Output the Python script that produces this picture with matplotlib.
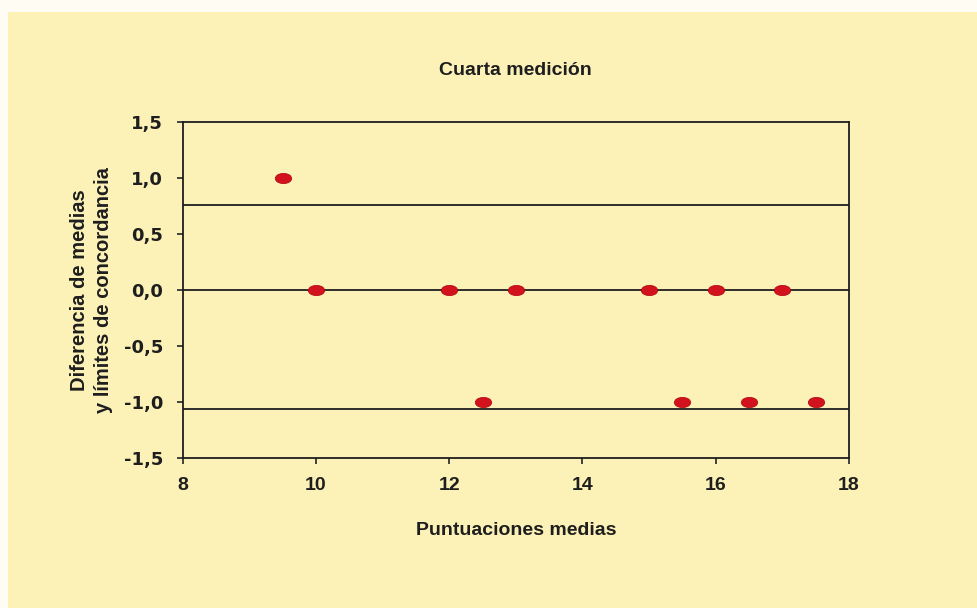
import matplotlib
matplotlib.use("Agg")
import matplotlib.pyplot as plt
from matplotlib.path import Path
from matplotlib.transforms import Affine2D
from matplotlib.patches import Rectangle

# Bland-Altman data: mean scores vs. difference of means
mean_scores = [9.5, 10, 12, 13, 15, 16, 17, 12.5, 15.5, 16.5, 17.5]
differences = [1.0, 0, 0, 0, 0, 0, 0, -1.0, -1.0, -1.0, -1.0]

mean_difference = 0.0
upper_limit = 0.76
lower_limit = -1.06

x_ticks = [8, 10, 12, 14, 16, 18]
y_ticks = [-1.5, -1.0, -0.5, 0.0, 0.5, 1.0, 1.5]
y_tick_labels = ["-1,5", "-1,0", "-0,5", "0,0", "0,5", "1,0", "1,5"]

bg = "#FCF2B7"
ink = "#1e1e1e"
plt.rcParams["font.family"] = ["Liberation Sans", "DejaVu Sans"]

fig = plt.figure(figsize=(9.77, 6.08), dpi=100, facecolor="#FFFDF3")
# paper panel behind everything
fig.patches.append(Rectangle((8 / 977, 0), 1, 1 - 12 / 608, transform=fig.transFigure,
                             facecolor=bg, edgecolor="none", zorder=-10))

ax = fig.add_axes([0.187, 0.247, 0.682, 0.552], facecolor=bg)
ax.set_zorder(1)

for y in (upper_limit, mean_difference, lower_limit):
    ax.axhline(y, color=ink, lw=1.3, zorder=1)

# elongated pill marker
pill = Path.unit_circle().transformed(Affine2D().scale(1.6, 1.0))
ax.scatter(mean_scores, differences, marker=pill, s=140, color="#D2121C",
           edgecolors="#B0000E", linewidths=0.5, zorder=3)

ax.set_xlim(8, 18)
ax.set_ylim(-1.5, 1.5)
ax.set_xticks(x_ticks)
ax.set_xticklabels([str(t) for t in x_ticks], fontsize=14, fontweight="bold", color=ink)
ax.set_yticks(y_ticks)
ax.set_yticklabels(y_tick_labels, fontsize=13, fontweight="bold", color=ink,
                   family=["DejaVu Sans"])
ax.tick_params(axis="both", direction="out", length=4, width=1.3, color="#333333")
ax.tick_params(axis="y", pad=10)
ax.tick_params(axis="x", pad=10)

for s in ax.spines.values():
    s.set_color(ink)
    s.set_linewidth(1.3)

ax.set_title("Cuarta medición", fontsize=14, fontweight="bold", color=ink, pad=34)
ax.set_xlabel("Puntuaciones medias", fontsize=14, fontweight="bold", color=ink, labelpad=20)
ax.set_ylabel("Diferencia de medias\ny límites de concordancia", fontsize=14.5,
              fontweight="bold", color=ink, labelpad=8, linespacing=1.3)

fig.savefig("out.png", dpi=100, facecolor=fig.get_facecolor())
